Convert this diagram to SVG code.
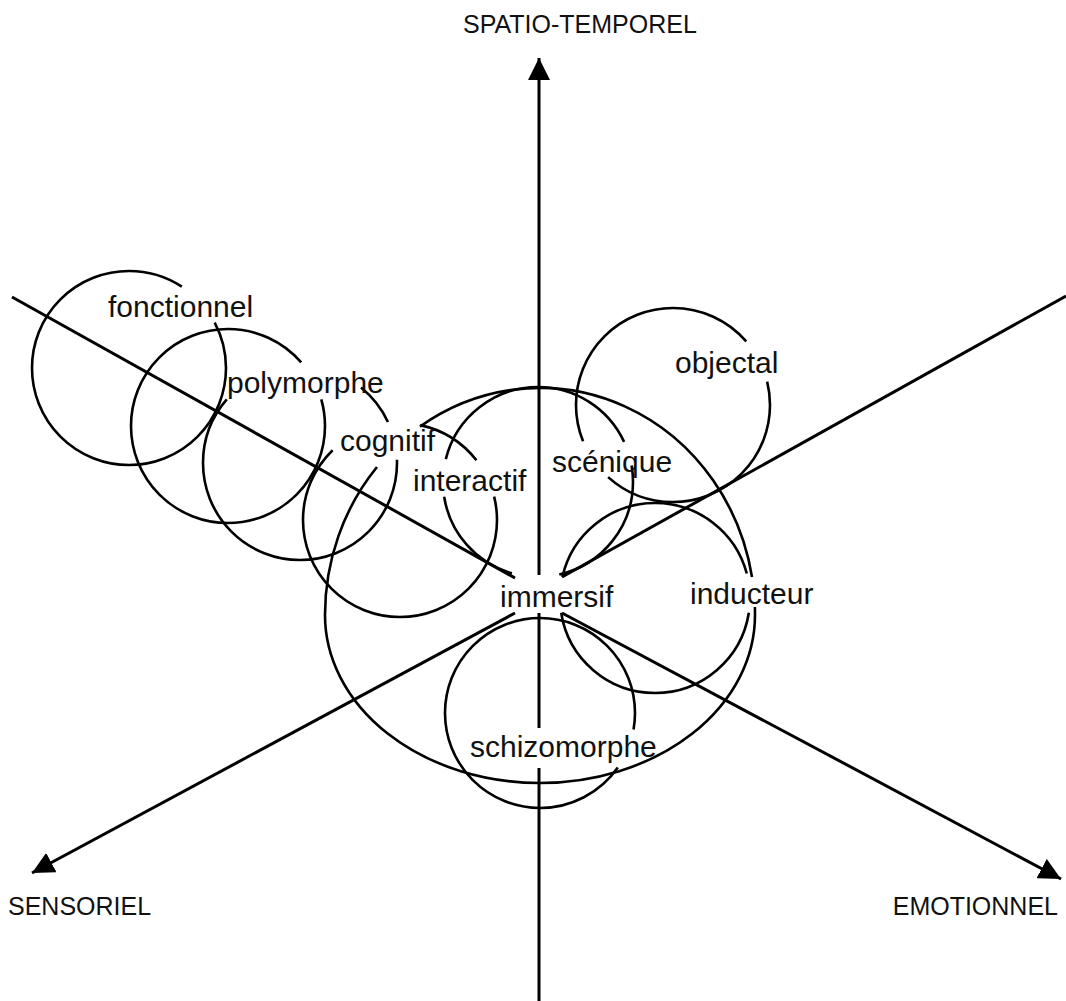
<svg xmlns="http://www.w3.org/2000/svg" width="1066" height="1001" viewBox="0 0 1066 1001">
<defs>
<style>
.axis{fill:none;stroke:#000;stroke-width:3}
.ring{fill:none;stroke:#000;stroke-width:2.6}
.lbl{font-family:"Liberation Sans",Arial,sans-serif;font-size:30px;fill:#111}
.axl{font-family:"Liberation Sans",Arial,sans-serif;font-size:25px;fill:#111}
</style>
<marker id="ah" markerUnits="userSpaceOnUse" markerWidth="24" markerHeight="22" refX="22" refY="11" orient="auto" viewBox="0 0 24 22"><path d="M0,0 L22,11 L0,22 z" fill="#000"/></marker>
</defs>
<rect width="1066" height="1001" fill="#fff"/>
<g id="connectors">
<line class="axis" x1="539" y1="575" x2="539" y2="58" marker-end="url(#ah)"/>
<line class="axis" x1="539" y1="613" x2="539" y2="728"/>
<line class="axis" x1="539" y1="768" x2="539" y2="1001"/>
<line class="axis" x1="12" y1="297" x2="515" y2="578"/>
<line class="axis" x1="1066" y1="296" x2="562" y2="577"/>
<line class="axis" x1="515" y1="613" x2="32" y2="873" marker-end="url(#ah)"/>
<line class="axis" x1="562" y1="613" x2="1061" y2="879" marker-end="url(#ah)"/>
</g>
<g id="axis-labels">
<text class="axl" x="463" y="33">SPATIO-TEMPOREL</text>
<text class="axl" x="8" y="915">SENSORIEL</text>
<text class="axl" x="1058" y="915" text-anchor="end">EMOTIONNEL</text>
</g>
<g id="node-immersif">
<path class="ring" d="M420,426.6 A215,227 0 0,1 752,577"/>
<path class="ring" d="M754.9,607 A215,227 0 0,1 755,615 A215,168 0 0,1 325,615 A215,227 0 0,1 377,467"/>
<text class="lbl" x="500" y="607">immersif</text>
</g>
<g id="node-fonctionnel">
<circle class="ring" cx="129" cy="368" r="97" pathLength="360" stroke-dasharray="303 29 28 0"/>
<text class="lbl" x="108" y="317">fonctionnel</text>
</g>
<g id="node-polymorphe">
<circle class="ring" cx="228" cy="426" r="97" pathLength="360" stroke-dasharray="319 25 16 0"/>
<circle class="ring" cx="300" cy="463" r="97" pathLength="360" stroke-dasharray="221 88 26 23 2 0"/>
<text class="lbl" x="227" y="393">polymorphe</text>
</g>
<g id="node-cognitif">
<circle class="ring" cx="400" cy="520" r="97" pathLength="360" stroke-dasharray="226 56 40 24 14 0"/>
<text class="lbl" x="340" y="451">cognitif</text>
</g>
<g id="node-interactif">
<circle class="ring" cx="538" cy="482" r="95" pathLength="360" stroke-dasharray="77 29 65 23 141 15 10 0"/>
<text class="lbl" x="413" y="491">interactif</text>
</g>
<g id="node-scenique">
<text class="lbl" x="552" y="472">scénique</text>
</g>
<g id="node-objectal">
<circle class="ring" cx="673" cy="405" r="97" pathLength="360" stroke-dasharray="132 26 161 27 14 0"/>
<text class="lbl" x="675" y="373">objectal</text>
</g>
<g id="node-inducteur">
<circle class="ring" cx="655" cy="598" r="95" pathLength="360" stroke-dasharray="0 9 162 22 152 15"/>
<text class="lbl" x="690" y="604">inducteur</text>
</g>
<g id="node-schizomorphe">
<circle class="ring" cx="540" cy="713" r="95" pathLength="360" stroke-dasharray="10 25 325 0"/>
<text class="lbl" x="470" y="757">schizomorphe</text>
</g>
</svg>
